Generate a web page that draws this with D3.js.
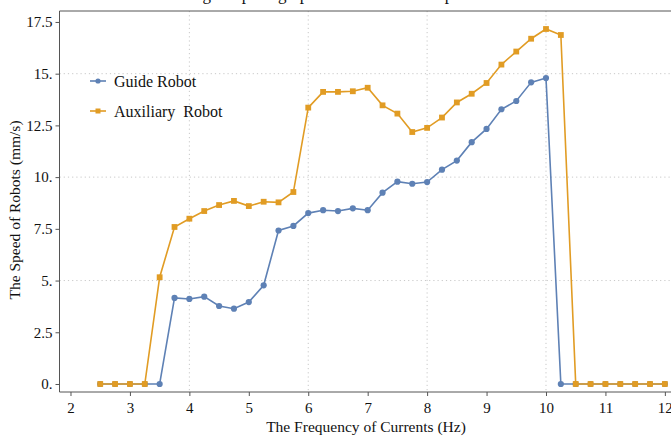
<!DOCTYPE html>
<head>
  <script src="https://d3js.org/d3.v7.min.js"></script>
  <meta charset='utf-8'>
  <style>
    body { margin: 0; background: #fff; }
    svg text { font-family: "Liberation Serif", "Times New Roman", serif; fill: #111; }
    .grid line { stroke: #c8c8c8; stroke-dasharray: 1.2,3; }
    .axis path, .axis line { stroke: #555; }
  </style>
</head>
<body>
<div id="chart"></div>
<script>
// frequency (Hz)
var freq = [2.5, 2.75, 3, 3.25, 3.5, 3.75, 4, 4.25, 4.5, 4.75, 5, 5.25, 5.5, 5.75,
            6, 6.25, 6.5, 6.75, 7, 7.25, 7.5, 7.75, 8, 8.25, 8.5, 8.75, 9, 9.25,
            9.5, 9.75, 10, 10.25, 10.5, 10.75, 11, 11.25, 11.5, 11.75, 12];
// speed (mm/s)
var guide = [0, 0, 0, 0, 0, 4.16, 4.11, 4.22, 3.77, 3.64, 3.96, 4.77, 7.42, 7.64,
             8.26, 8.40, 8.36, 8.49, 8.40, 9.25, 9.78, 9.68, 9.76, 10.36, 10.80, 11.69,
             12.33, 13.28, 13.68, 14.58, 14.79, 0, 0, 0, 0, 0, 0, 0, 0];
var auxiliary = [0, 0, 0, 0, 5.16, 7.59, 7.99, 8.36, 8.65, 8.85, 8.60, 8.81, 8.78, 9.28,
                 13.36, 14.12, 14.12, 14.15, 14.32, 13.47, 13.07, 12.18, 12.38, 12.88, 13.61, 14.03,
                 14.55, 15.44, 16.07, 16.69, 17.16, 16.87, 0, 0, 0, 0, 0, 0, 0];
var xTicks = [2, 3, 4, 5, 6, 7, 8, 9, 10, 11, 12];
var yTicks = [0, 2.5, 5, 7.5, 10, 12.5, 15, 17.5];
var xGrid = [4, 6, 8, 10];
var yGrid = [5, 10, 15];
var seriesNames = ["Guide Robot", "Auxiliary  Robot"];

var W = 671, H = 437;
var margin = {top: 11, right: -1, bottom: 45, left: 59.5};
var width = W - margin.left - margin.right,
    height = H - margin.top - margin.bottom;

var svg = d3.select("#chart").append("svg")
    .attr("width", W).attr("height", H);

// title, mostly clipped at the top of the picture
svg.append("text")
    .attr("x", 350).attr("y", 0)
    .attr("text-anchor", "middle")
    .style("font-size", "17px")
    .text("Fig. 8 Speed graph of the robots in experiments");

var g = svg.append("g")
    .attr("transform", `translate(${margin.left},${margin.top})`);

var x = d3.scaleLinear().domain([1.815, 12.12]).range([0, width]);
var y = d3.scaleLinear().domain([-0.387, 18.03]).range([height, 0]);

// grid
g.append("g").attr("class", "grid")
  .selectAll("line").data(xGrid).join("line")
    .attr("x1", d => x(d)).attr("x2", d => x(d))
    .attr("y1", 0).attr("y2", height);
g.append("g").attr("class", "grid")
  .selectAll("line").data(yGrid).join("line")
    .attr("x1", 0).attr("x2", width)
    .attr("y1", d => y(d)).attr("y2", d => y(d));

// axes
var xAxis = g.append("g").attr("class", "axis")
    .attr("transform", `translate(0,${height})`)
    .call(d3.axisBottom(x).tickValues(xTicks).tickSize(4).tickSizeOuter(0).tickFormat(d3.format("d")));
var yAxis = g.append("g").attr("class", "axis")
    .call(d3.axisLeft(y).tickValues(yTicks).tickSize(4).tickSizeOuter(0)
      .tickFormat(d => (d % 1 === 0 ? d + "." : d)));
xAxis.selectAll("text").style("font-size", "15px").attr("dy", "0.95em");
yAxis.selectAll("text").style("font-size", "15px");
xAxis.select(".domain").attr("d", `M0,0H${width}`);
yAxis.select(".domain").attr("d", `M0,0V${height}`);

// top frame
g.append("line").attr("x1", 0).attr("x2", width).attr("y1", 0).attr("y2", 0)
    .attr("stroke", "#555");

var colors = ["#5e81b5", "#e19c24"];
var series = [guide, auxiliary];

var line = d3.line()
    .x((d, i) => x(freq[i]))
    .y(d => y(d));

series.forEach(function(vals, s) {
  g.append("path")
    .datum(vals)
    .attr("fill", "none")
    .attr("stroke", colors[s])
    .attr("stroke-width", 1.6)
    .attr("d", line);
  if (s === 0) {
    g.append("g").selectAll("circle").data(vals).join("circle")
      .attr("cx", (d, i) => x(freq[i])).attr("cy", d => y(d))
      .attr("r", 3.1).attr("fill", colors[s]);
  } else {
    g.append("g").selectAll("rect").data(vals).join("rect")
      .attr("x", (d, i) => x(freq[i]) - 2.9).attr("y", d => y(d) - 2.9)
      .attr("width", 5.8).attr("height", 5.8).attr("fill", colors[s]);
  }
});

// legend
var legend = svg.append("g").attr("transform", "translate(90,81)");
seriesNames.forEach(function(name, s) {
  var row = legend.append("g").attr("transform", `translate(0,${s * 30})`);
  row.append("line").attr("x1", 0).attr("x2", 16).attr("stroke", colors[s]).attr("stroke-width", 1.6);
  if (s === 0) row.append("circle").attr("cx", 8).attr("r", 2.6).attr("fill", colors[s]);
  else row.append("rect").attr("x", 5.5).attr("y", -2.5).attr("width", 5).attr("height", 5).attr("fill", colors[s]);
  row.append("text").attr("x", 24).attr("dy", "0.35em")
    .style("font-size", "16px").style("white-space", "pre")
    .text(name);
});

// axis labels
svg.append("text")
    .attr("x", 366).attr("y", 432)
    .attr("text-anchor", "middle")
    .style("font-size", "15.5px")
    .text("The Frequency of Currents (Hz)");
svg.append("text")
    .attr("transform", "translate(20,210) rotate(-90)")
    .attr("text-anchor", "middle")
    .style("font-size", "15.5px")
    .text("The Speed of Robots (mm/s)");
</script>
</body>
